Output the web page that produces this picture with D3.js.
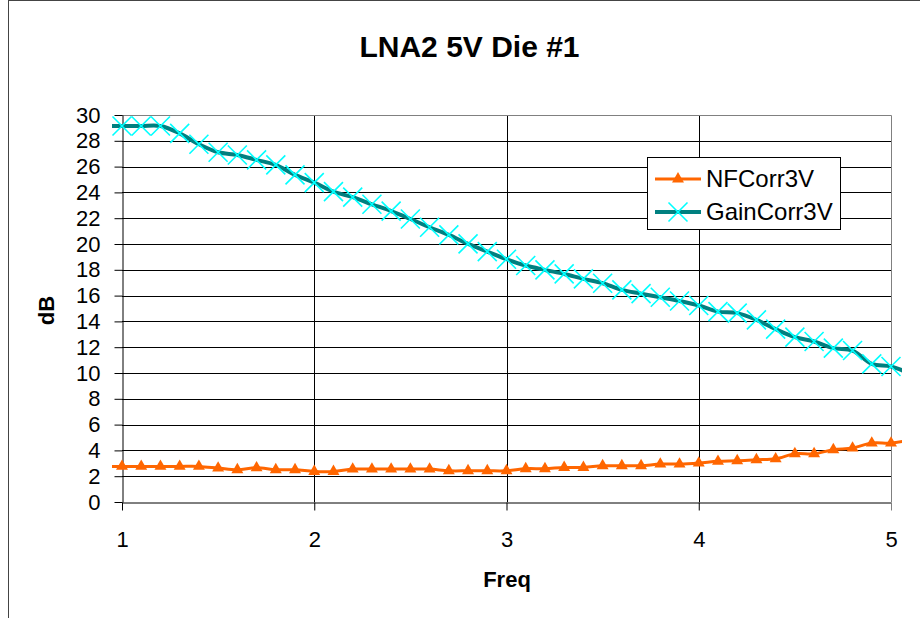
<!DOCTYPE html>
<html><head><meta charset="utf-8">
<script src="https://cdn.jsdelivr.net/npm/d3@7"></script>
<style>
body{margin:0;background:#fff}
svg{display:block}
text{font-family:"Liberation Sans",Arial,sans-serif}
</style>
</head><body>
<svg id="c" width="920" height="618"></svg>
<script>
const chartTitle = "LNA2 5V Die #1";
const xTitle = "Freq";
const yTitle = "dB";
const seriesNames = ["NFCorr3V", "GainCorr3V"];
const freq = [0.9,1.0,1.1,1.2,1.3,1.4,1.5,1.6,1.7,1.8,1.9,2.0,2.1,2.2,2.3,2.4,2.5,2.6,2.7,2.8,2.9,3.0,
              3.1,3.2,3.3,3.4,3.5,3.6,3.7,3.8,3.9,4.0,4.1,4.2,4.3,4.4,4.5,4.6,4.7,4.8,4.9,5.0,5.1];
const nfCorr3V = [2.76,2.76,2.76,2.76,2.76,2.76,2.63,2.50,2.65,2.50,2.50,2.37,2.37,2.55,2.55,2.55,2.55,2.55,2.42,2.42,2.42,2.42,
                  2.58,2.58,2.68,2.68,2.81,2.81,2.81,2.94,2.94,3.02,3.15,3.20,3.28,3.35,3.74,3.74,4.05,4.18,4.57,4.57,4.80];
const gainCorr3V = [29.15,29.15,29.15,29.15,28.58,27.73,27.11,26.90,26.52,26.13,25.36,24.76,24.06,23.63,23.08,22.55,21.94,21.30,20.71,20.01,19.41,18.82,
                    18.33,17.99,17.68,17.30,16.96,16.44,16.15,15.87,15.58,15.23,14.76,14.64,14.12,13.40,12.78,12.44,11.93,11.74,10.71,10.50,9.95];
const xTicks = [1,2,3,4,5];
const yTicks = [0,2,4,6,8,10,12,14,16,18,20,22,24,26,28,30];

const svg = d3.select("#c");
const L = 122, R = 891, T = 115, B = 502;
const x = d3.scaleLinear().domain([1,5]).range([L,R]);
const y = d3.scaleLinear().domain([0,30]).range([B,T]);

// chart outer border
svg.append("rect").attr("x",8.5).attr("y",0.5).attr("width",1000).attr("height",1000)
  .attr("fill","#fff").attr("stroke","#444").attr("stroke-width",1);

// title
svg.append("text").attr("x",469.5).attr("y",56.5).attr("text-anchor","middle")
  .attr("font-size",30).attr("font-weight","bold").text(chartTitle);

// gridlines
svg.append("g").selectAll("line").data(yTicks.filter(d=>d>0 && d<30)).join("line")
  .attr("x1",L).attr("x2",R).attr("y1",d=>Math.round(y(d))+0.5).attr("y2",d=>Math.round(y(d))+0.5)
  .attr("stroke","#000").attr("stroke-width",1);
svg.append("g").selectAll("line").data(xTicks.filter(d=>d>1 && d<5)).join("line")
  .attr("y1",T).attr("y2",B).attr("x1",d=>Math.round(x(d))+0.5).attr("x2",d=>Math.round(x(d))+0.5)
  .attr("stroke","#000").attr("stroke-width",1);
// plot border (top/right grey)
svg.append("path").attr("d",`M${L},${T+0.5}H${R+0.5}V${B}`).attr("fill","none").attr("stroke","#808080").attr("stroke-width",1);

// axes
const yAxis = d3.axisLeft(y).tickValues(yTicks).tickSize(8).tickSizeOuter(0).tickPadding(14).tickFormat(d3.format("d"));
const gy = svg.append("g").attr("transform",`translate(${L+0.5},0)`).call(yAxis);
gy.selectAll("text").attr("font-size",22).attr("fill","#000").attr("font-family","'Liberation Sans',Arial,sans-serif");
gy.selectAll("line,path").attr("stroke","#000");

const xAxis = d3.axisBottom(x).tickValues(xTicks).tickSize(8).tickSizeOuter(0).tickPadding(21).tickFormat(d3.format("d"));
const gx = svg.append("g").attr("transform",`translate(0,${B+0.5})`).call(xAxis);
gx.selectAll("text").attr("font-size",22).attr("fill","#000").attr("font-family","'Liberation Sans',Arial,sans-serif");
gx.selectAll("line,path").attr("stroke","#000");
gx.selectAll(".tick").filter(d=>d===5).select("line").attr("stroke","#808080");

// axis titles
svg.append("text").attr("x",507).attr("y",586.5).attr("text-anchor","middle")
  .attr("font-size",22).attr("font-weight","bold").text(xTitle);
svg.append("text").attr("transform","translate(53.5,310.5) rotate(-90)").attr("text-anchor","middle")
  .attr("font-size",22).attr("font-weight","bold").text(yTitle);

// clip
svg.append("clipPath").attr("id","clip").append("rect").attr("x",112).attr("y",90).attr("width",790).attr("height",440);

const nfData = freq.map((f,i)=>({f, v:nfCorr3V[i]}));
const gainData = freq.map((f,i)=>({f, v:gainCorr3V[i]}));
const line = d3.line().x(d=>x(d.f)).y(d=>y(d.v)).curve(d3.curveCatmullRom.alpha(0.5));

const orange = "#FF6600", teal = "#008080", cyan = "#00FFFF";

// NF series
svg.append("path").datum(nfData).attr("clip-path","url(#clip)").attr("d",line)
  .attr("fill","none").attr("stroke",orange).attr("stroke-width",3);
const tri = d3.symbol().type(d3.symbolTriangle).size(62);
svg.append("g").selectAll("path").data(nfData.filter(d=>d.f>=1 && d.f<=5.001)).join("path")
  .attr("transform",d=>`translate(${x(d.f)},${y(d.v)})`).attr("d",tri).attr("fill",orange);

// Gain series
svg.append("path").datum(gainData).attr("clip-path","url(#clip)").attr("d",line)
  .attr("fill","none").attr("stroke",teal).attr("stroke-width",4);
const cs = 9.5;
const crossPath = `M${-cs},${-cs}L${cs},${cs}M${-cs},${cs}L${cs},${-cs}`;
svg.append("g").selectAll("path").data(gainData.filter(d=>d.f>=1 && d.f<=5.001)).join("path")
  .attr("transform",d=>`translate(${x(d.f)},${y(d.v)})`).attr("d",crossPath)
  .attr("fill","none").attr("stroke",cyan).attr("stroke-width",1.6);

// legend
const lg = svg.append("g");
lg.append("rect").attr("x",647.5).attr("y",157.5).attr("width",193).attr("height",72)
  .attr("fill","#fff").attr("stroke","#000").attr("stroke-width",1);
const rows = [{name:seriesNames[0], cy:179, col:orange, w:3, mk:"tri"},{name:seriesNames[1], cy:212, col:teal, w:4, mk:"x"}];
rows.forEach(r=>{
  lg.append("line").attr("x1",655).attr("x2",701).attr("y1",r.cy).attr("y2",r.cy).attr("stroke",r.col).attr("stroke-width",r.w);
  if(r.mk==="tri"){
    lg.append("path").attr("transform",`translate(678,${r.cy})`).attr("d",tri).attr("fill",orange);
  } else {
    lg.append("path").attr("transform",`translate(678,${r.cy})`).attr("d",crossPath).attr("fill","none").attr("stroke",cyan).attr("stroke-width",1.6);
  }
  lg.append("text").attr("x",706).attr("y",r.cy+8).attr("font-size",24).text(r.name);
});
</script>
</body></html>
